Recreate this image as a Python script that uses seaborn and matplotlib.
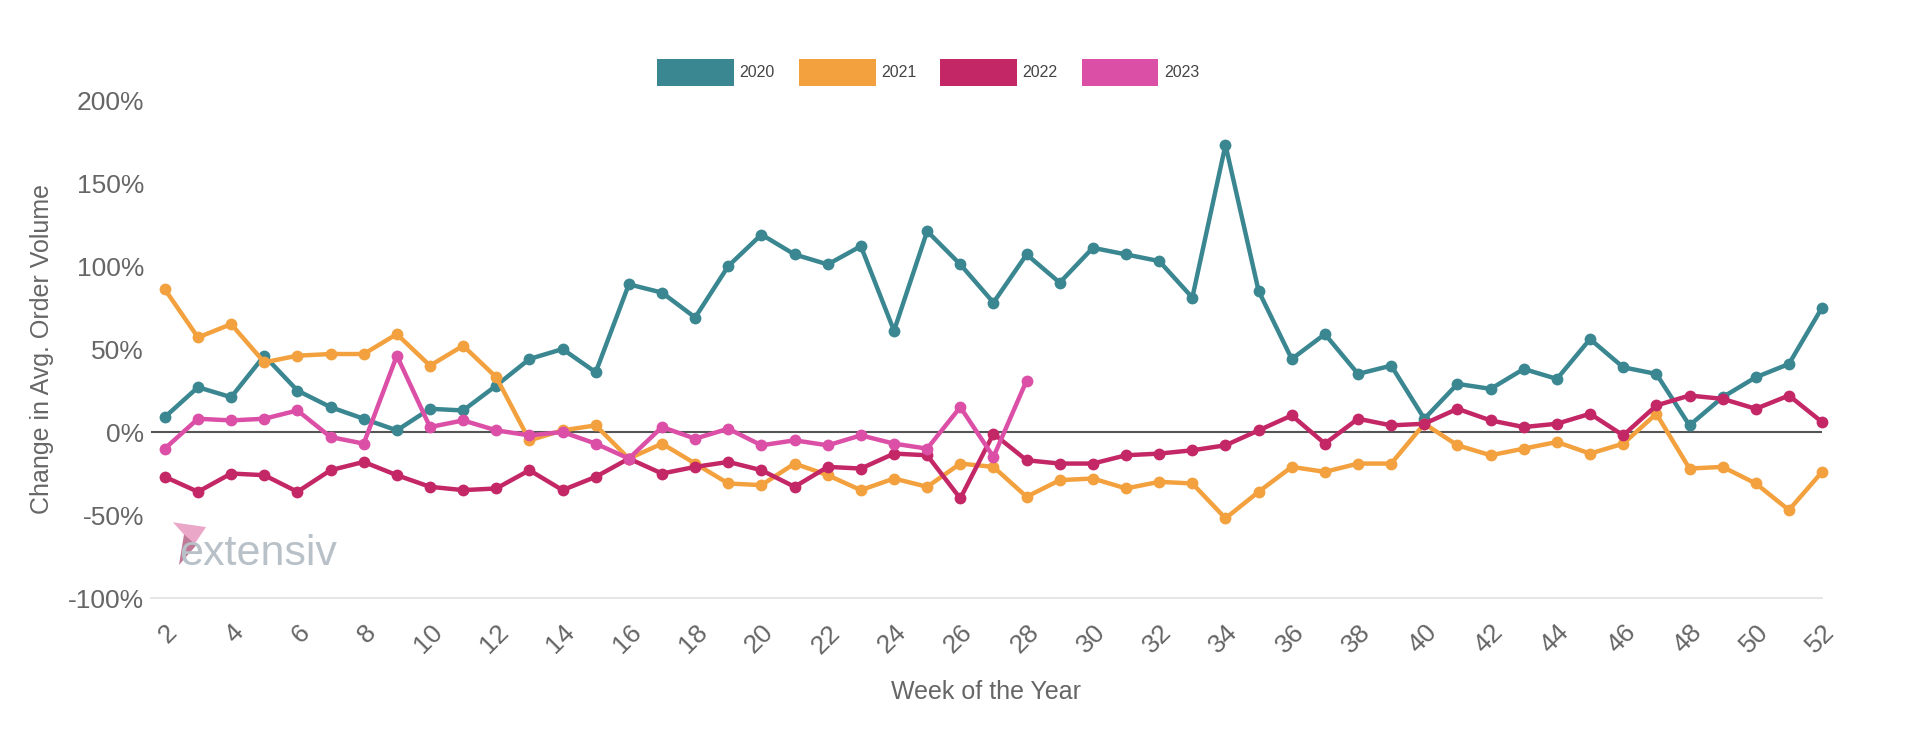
import matplotlib
matplotlib.use("Agg")
import matplotlib.pyplot as plt
import matplotlib.patches as mpatches
import seaborn as sns
import pandas as pd
import numpy as np

# Week-over-year change in average order volume (%)
weeks = list(range(2, 53))

vol_2020 = [9, 27, 21, 46, 25, 15, 8, 1, 14, 13, 28, 44, 50, 36, 89, 84, 69,
            100, 119, 107, 101, 112, 61, 121, 101, 78, 107, 90, 111, 107, 103,
            81, 173, 85, 44, 59, 35, 40, 8, 29, 26, 38, 32, 56, 39, 35, 4, 21,
            33, 41, 75]
vol_2021 = [86, 57, 65, 42, 46, 47, 47, 59, 40, 52, 33, -5, 1, 4, -16, -7, -19,
            -31, -32, -19, -26, -35, -28, -33, -19, -21, -39, -29, -28, -34,
            -30, -31, -52, -36, -21, -24, -19, -19, 5, -8, -14, -10, -6, -13,
            -7, 11, -22, -21, -31, -47, -24]
vol_2022 = [-27, -36, -25, -26, -36, -23, -18, -26, -33, -35, -34, -23, -35,
            -27, -16, -25, -21, -18, -23, -33, -21, -22, -13, -14, -40, -1,
            -17, -19, -19, -14, -13, -11, -8, 1, 10, -7, 8, 4, 5, 14, 7, 3, 5,
            11, -2, 16, 22, 20, 14, 22, 6]
vol_2023 = [-10, 8, 7, 8, 13, -3, -7, 46, 3, 7, 1, -2, 0, -7, -16, 3, -4, 2,
            -8, -5, -8, -2, -7, -10, 15, -15, 31]

years = ["2020", "2021", "2022", "2023"]
colors = {"2020": "#3a8791", "2021": "#f3a13e", "2022": "#c42766", "2023": "#db4fa6"}

frames = []
for year, vals in zip(years, [vol_2020, vol_2021, vol_2022, vol_2023]):
    frames.append(pd.DataFrame({"week": weeks[:len(vals)], "change": vals, "year": year}))
df = pd.concat(frames, ignore_index=True)

sns.set_style("white")
plt.rcParams["font.family"] = ["Liberation Sans", "DejaVu Sans"]

fig = plt.figure(figsize=(19.2, 7.36), dpi=100)
ax = fig.add_axes([0.0786, 0.1875, 0.8704, 0.6765])

ax.axhline(0, color="#555555", linewidth=1.5, zorder=1)

sns.lineplot(data=df, x="week", y="change", hue="year", palette=colors,
             marker="o", markersize=8.5, markeredgewidth=0, linewidth=3.2,
             legend=False, ax=ax, zorder=3, clip_on=False)

ax.set_xlim(1.58, 52)
ax.set_ylim(-100, 200)
ax.set_yticks(np.arange(-100, 201, 50))
ax.set_yticklabels([f"{v}%" for v in range(-100, 201, 50)])
ax.set_xticks(range(2, 53, 2))
ax.set_xticklabels([str(w) for w in range(2, 53, 2)], rotation=45,
                   ha="right", rotation_mode="anchor")
ax.tick_params(axis="both", length=0, labelsize=19, labelcolor="#666666")
ax.tick_params(axis="x", pad=16)
ax.tick_params(axis="y", pad=5)

for side in ["top", "right", "left"]:
    ax.spines[side].set_visible(False)
ax.spines["bottom"].set_color("#e0e0e0")
ax.spines["bottom"].set_linewidth(1.2)
ax.grid(False)

ax.set_xlabel("Week of the Year", fontsize=18, color="#666666", labelpad=16)
ax.set_ylabel("Change in Avg. Order Volume", fontsize=18, color="#666666", labelpad=10)

# watermark logo
ax.add_patch(mpatches.Polygon([[0.0132, 0.152], [0.033, 0.1425], [0.0256, 0.1057]],
                              closed=True, transform=ax.transAxes,
                              facecolor="#eaa7c8", edgecolor="none", zorder=0))
ax.add_patch(mpatches.Polygon([[0.0198, 0.128], [0.0271, 0.1057], [0.0168, 0.0663]],
                              closed=True, transform=ax.transAxes,
                              facecolor="#c07a98", edgecolor="none", zorder=0))
ax.text(0.017, 0.088, "extensiv", transform=ax.transAxes, fontsize=31,
        color="#b8c0c8", va="center", ha="left", zorder=0)

handles = [mpatches.Patch(facecolor=colors[y], edgecolor="none", label=y) for y in years]
leg = fig.legend(handles=handles, loc="center", bbox_to_anchor=(0.4835, 0.902),
                 ncol=4, frameon=False, fontsize=11.5, handlelength=4.8,
                 handleheight=2.2, handletextpad=0.35, columnspacing=1.5)
for t in leg.get_texts():
    t.set_color("#444444")

fig.savefig("out.png", dpi=100)
